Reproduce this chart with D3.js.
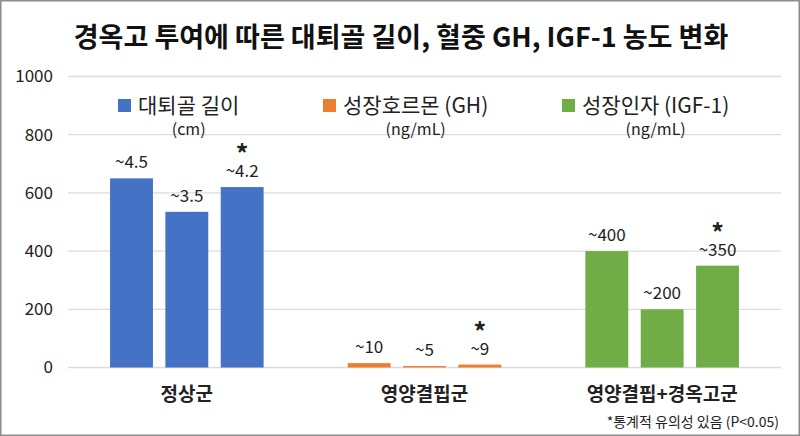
<!DOCTYPE html>
<html>
<head>
<meta charset="utf-8">
<script src="https://cdn.jsdelivr.net/npm/d3@7"></script>
<style>
  body { margin: 0; background: #fff; }
  svg text { font-family: "Noto Sans CJK KR", "Noto Sans", sans-serif; }
</style>
</head>
<body>
<div id="canvas"></div>
<script>
"use strict";

/* Data */
let groups = ["정상군", "영양결핍군", "영양결핍+경옥고군"];
let seriesNames = ["대퇴골 길이", "성장호르몬 (GH)", "성장인자 (IGF-1)"];
let seriesUnits = ["(cm)", "(ng/mL)", "(ng/mL)"];
let barKeys = ["a", "b", "c"];
let normalValues = [650, 535, 620];
let deficientValues = [15, 5, 10];
let treatedValues = [400, 200, 350];
let normalLabels = ["~4.5", "~3.5", "~4.2"];
let deficientLabels = ["~10", "~5", "~9"];
let treatedLabels = ["~400", "~200", "~350"];
let significant = [false, false, true];
let yTicks = [0, 200, 400, 600, 800, 1000];
let colors = ["#4472C4", "#ED7D31", "#70AD47"];

/* Drawing config */
let svgWidth = 800;
let svgHeight = 436;
let plotLeft = 68;
let plotRight = 781;
let plotTop = 76.5;
let plotBottom = 367.5;

let svg = d3.select("#canvas")
  .append("svg")
  .attr("width", svgWidth)
  .attr("height", svgHeight);

// frame
svg.append("rect")
  .attr("x", 0.75)
  .attr("y", 0.75)
  .attr("width", svgWidth - 1.5)
  .attr("height", svgHeight - 1.5)
  .attr("fill", "#fff")
  .attr("stroke", "#8c8c8c")
  .attr("stroke-width", 1.5);

let rows = [];
let allValues = [normalValues, deficientValues, treatedValues];
let allLabels = [normalLabels, deficientLabels, treatedLabels];
for (let g = 0; g < groups.length; g = g + 1) {
  for (let i = 0; i < barKeys.length; i = i + 1) {
    rows.push({
      group: groups[g],
      gi: g,
      key: barKeys[i],
      value: allValues[g][i],
      label: allLabels[g][i],
      star: significant[i]
    });
  }
}

let x0 = d3.scaleBand().domain(groups).range([plotLeft, plotRight]).padding(0);
let x1 = d3.scaleBand().domain(barKeys).range([0, x0.bandwidth()])
  .paddingInner(0.225).paddingOuter(0.76);
let y = d3.scaleLinear().domain([0, 1000]).range([plotBottom, plotTop]);

function barCenter(d) {
  return x0(d.group) + x1(d.key) + x1.bandwidth() / 2;
}

/* Grid */
svg.selectAll(".grid")
  .data(yTicks)
  .enter()
  .append("line")
  .attr("x1", plotLeft)
  .attr("x2", plotRight)
  .attr("y1", function (d) { return y(d); })
  .attr("y2", function (d) { return y(d); })
  .attr("stroke", "#dcdcdc")
  .attr("stroke-width", 1.3);

svg.selectAll(".ytick")
  .data(yTicks)
  .enter()
  .append("text")
  .attr("x", 53)
  .attr("y", function (d) { return y(d); })
  .attr("dy", "0.35em")
  .attr("text-anchor", "end")
  .attr("font-size", "17px")
  .attr("fill", "#222")
  .text(function (d) { return String(d); });

/* Bars */
svg.selectAll(".bar")
  .data(rows)
  .enter()
  .append("rect")
  .attr("x", function (d) { return x0(d.group) + x1(d.key); })
  .attr("width", x1.bandwidth())
  .attr("y", function (d) { return y(d.value); })
  .attr("height", function (d) { return y(0) - y(d.value); })
  .attr("fill", function (d) { return colors[d.gi]; });

svg.selectAll(".vlabel")
  .data(rows)
  .enter()
  .append("text")
  .attr("x", barCenter)
  .attr("y", function (d) { return y(d.value) - 10; })
  .attr("text-anchor", "middle")
  .attr("font-size", "17px")
  .attr("fill", "#222")
  .text(function (d) { return d.label; });

// significance stars, a bit above the value label
svg.selectAll(".star")
  .data(rows.filter(function (d) { return d.star; }))
  .enter()
  .append("text")
  .attr("x", barCenter)
  .attr("y", function (d) { return y(d.value) - 24; })
  .attr("text-anchor", "middle")
  .attr("font-size", "25px")
  .attr("font-weight", "bold")
  .attr("fill", "#222")
  .text("*");

/* Group labels */
svg.selectAll(".glabel")
  .data(groups)
  .enter()
  .append("text")
  .attr("x", function (d) { return x0(d) + x0.bandwidth() / 2; })
  .attr("y", 401)
  .attr("text-anchor", "middle")
  .attr("font-size", "19px")
  .attr("font-weight", "bold")
  .attr("fill", "#222")
  .text(function (d) { return d; });

/* Title */
svg.append("text")
  .attr("x", 401)
  .attr("y", 47)
  .attr("text-anchor", "middle")
  .attr("font-size", "27px")
  .attr("font-weight", "bold")
  .attr("fill", "#111")
  .text("경옥고 투여에 따른 대퇴골 길이, 혈중 GH, IGF-1 농도 변화");

/* Legend */
let legendX = [118, 323, 562];
for (let i = 0; i < seriesNames.length; i = i + 1) {
  svg.append("rect")
    .attr("x", legendX[i])
    .attr("y", 99)
    .attr("width", 13)
    .attr("height", 13)
    .attr("fill", colors[i]);

  let t = svg.append("text")
    .attr("x", legendX[i] + 20)
    .attr("y", 113)
    .attr("font-size", "21px")
    .attr("fill", "#222")
    .text(seriesNames[i]);

  // unit line centred under the legend text
  let w = t.node().getComputedTextLength();
  svg.append("text")
    .attr("x", legendX[i] + 20 + w / 2)
    .attr("y", 135)
    .attr("text-anchor", "middle")
    .attr("font-size", "16px")
    .attr("fill", "#222")
    .text(seriesUnits[i]);
}

/* Footnote */
svg.append("text")
  .attr("x", 779)
  .attr("y", 427)
  .attr("text-anchor", "end")
  .attr("font-size", "14px")
  .attr("fill", "#222")
  .text("*통계적 유의성 있음 (P<0.05)");
</script>
</body>
</html>
